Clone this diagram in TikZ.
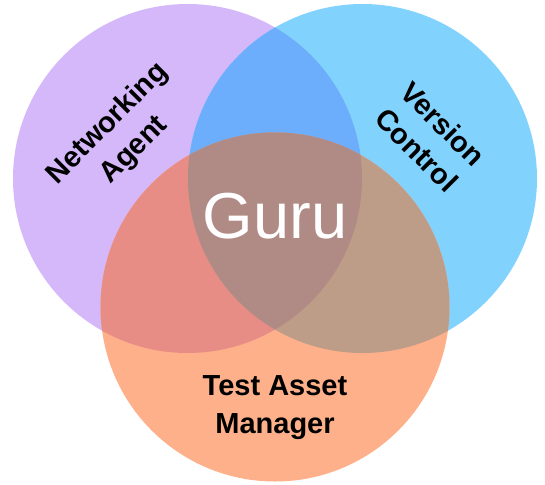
\documentclass[tikz,border=0pt]{standalone}
\usepackage{fontspec}
\setmainfont{Liberation Sans}

\definecolor{netcol}{HTML}{D4B8FA}
\definecolor{vercol}{HTML}{82D2FE}
\definecolor{testcol}{HTML}{FDB08A}
\definecolor{netvercol}{HTML}{6CAEFB}
\definecolor{nettestcol}{HTML}{E88D85}
\definecolor{vertestcol}{HTML}{BE9D88}
\definecolor{gurucol}{HTML}{B08A84}

\tikzstyle{label} = [align=center,font=\bfseries\fontsize{29}{37}\selectfont,text=black,inner sep=0pt]

\begin{document}
\begin{tikzpicture}[x=1pt,y=-1pt]
	\useasboundingbox (0,0) rectangle (545,484);
	\coordinate (net) at (187.5,178.5);
	\coordinate (ver) at (362.5,178.5);
	\coordinate (test) at (275,307);
	\def\rad{174.5}
	\fill [netcol] (net) circle (\rad);
	\fill [vercol] (ver) circle (\rad);
	\fill [testcol] (test) circle (\rad);
	\begin{scope}
		\clip (net) circle (\rad);
		\fill [netvercol] (ver) circle (\rad);
		\fill [nettestcol] (test) circle (\rad);
	\end{scope}
	\begin{scope}
		\clip (ver) circle (\rad);
		\fill [vertestcol] (test) circle (\rad);
	\end{scope}
	\begin{scope}
		\clip (net) circle (\rad);
		\clip (ver) circle (\rad);
		\fill [gurucol] (test) circle (\rad);
	\end{scope}
	\node (guru) at (275,216) [font=\fontsize{65}{78}\selectfont,text=white,inner sep=0pt] {Guru};
	\node (netlabel) at (121,137) [label,rotate=45] {Networking\\Agent};
	\node (verlabel) at (430,137) [label,rotate=-45] {Version\\Control};
	\node (testlabel) at (275,408) [label,font=\bfseries\fontsize{29}{38}\selectfont] {Test Asset\\Manager};
\end{tikzpicture}
\end{document}
